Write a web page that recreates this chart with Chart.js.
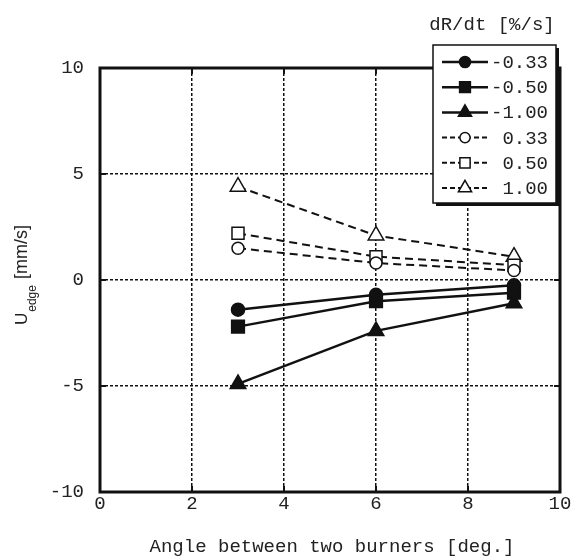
<!DOCTYPE html>
<html>
<head>
<meta charset="utf-8">
<script src="https://cdn.jsdelivr.net/npm/chart.js@4"></script>
<style>
  html, body { margin: 0; padding: 0; background: #fff; }
  #wrap { width: 574px; height: 557px; }
</style>
</head>
<body>
<div id="wrap"><canvas id="chart" width="574" height="557"></canvas></div>
<script>
// angle between the burners [deg.]
const angles = [3, 6, 9];

// dR/dt [%/s]
const rateLabels = ['-0.33', '-0.50', '-1.00', '0.33', '0.50', '1.00'];

// U_edge [mm/s] for each rate
const uNeg033 = [-1.4, -0.7, -0.25];
const uNeg050 = [-2.2, -1.0, -0.6];
const uNeg100 = [-4.9, -2.4, -1.1];
const uPos033 = [1.5, 0.8, 0.45];
const uPos050 = [2.2, 1.1, 0.7];
const uPos100 = [4.4, 2.1, 1.1];

const xTicks = [0, 2, 4, 6, 8, 10];
const yTicks = [-10, -5, 0, 5, 10];

const INK = '#111';
const MONO = '"Liberation Mono", "DejaVu Sans Mono", monospace';
const SANS = '"Liberation Sans", Arial, sans-serif';

function series(label, values, style, filled, radius) {
  return {
    label: label,
    data: angles.map((a, i) => ({ x: a, y: values[i] })),
    borderColor: INK,
    borderWidth: filled ? 2.5 : 2,
    borderDash: filled ? [] : [8, 5],
    pointStyle: style,
    pointRadius: radius,
    pointBorderWidth: 1.5,
    pointBorderColor: INK,
    pointBackgroundColor: filled ? INK : '#fff',
    tension: 0
  };
}

const datasets = [
  series(rateLabels[0], uNeg033, 'circle', true, 6.5),
  series(rateLabels[1], uNeg050, 'rect', true, 9),
  series(rateLabels[2], uNeg100, 'triangle', true, 9),
  series(rateLabels[3], uPos033, 'circle', false, 6),
  series(rateLabels[4], uPos050, 'rect', false, 8.5),
  series(rateLabels[5], uPos100, 'triangle', false, 9)
];

// frame, inward ticks, axis titles and the boxed legend
const decorations = {
  id: 'decorations',
  afterDraw(chart) {
    const ctx = chart.ctx;
    const a = chart.chartArea;
    const xs = chart.scales.x, ys = chart.scales.y;
    ctx.save();

    // frame
    ctx.strokeStyle = INK;
    ctx.lineWidth = 3;
    ctx.setLineDash([]);
    ctx.strokeRect(a.left, a.top, a.right - a.left, a.bottom - a.top);

    // inward ticks on all four sides
    ctx.lineWidth = 2;
    ctx.beginPath();
    xTicks.forEach(v => {
      const px = xs.getPixelForValue(v);
      ctx.moveTo(px, a.bottom); ctx.lineTo(px, a.bottom - 6);
      ctx.moveTo(px, a.top); ctx.lineTo(px, a.top + 6);
    });
    yTicks.forEach(v => {
      const py = ys.getPixelForValue(v);
      ctx.moveTo(a.left, py); ctx.lineTo(a.left + 6, py);
      ctx.moveTo(a.right, py); ctx.lineTo(a.right - 6, py);
    });
    ctx.stroke();

    // x title
    ctx.fillStyle = '#222';
    ctx.font = '19px ' + MONO;
    ctx.textAlign = 'center';
    ctx.textBaseline = 'alphabetic';
    ctx.fillText('Angle between two burners [deg.]', (a.left + a.right) / 2 + 2, 552);

    // y title: U with subscript "edge", then unit
    ctx.save();
    ctx.translate(27, 325);
    ctx.rotate(-Math.PI / 2);
    ctx.textAlign = 'left';
    ctx.font = '17px ' + SANS;
    ctx.fillText('U', 0, 0);
    let off = ctx.measureText('U').width + 1;
    ctx.font = '12px ' + SANS;
    ctx.fillText('edge', off, 9);
    off += ctx.measureText('edge').width + 6;
    ctx.font = '18px ' + SANS;
    ctx.fillText('[mm/s]', off, 0);
    ctx.restore();

    // legend title
    ctx.font = '19px ' + MONO;
    ctx.textAlign = 'center';
    ctx.fillText('dR/dt [%/s]', 492, 30);

    // legend box with shadow
    const bx = 433, by = 45, bw = 123, bh = 158;
    ctx.fillStyle = INK;
    ctx.fillRect(bx + 3, by + 3, bw, bh);
    ctx.fillStyle = '#fff';
    ctx.fillRect(bx, by, bw, bh);
    ctx.strokeStyle = INK;
    ctx.lineWidth = 1.5;
    ctx.strokeRect(bx, by, bw, bh);

    chart.data.datasets.forEach((ds, i) => {
      const ry = 62 + i * 25.2;
      ctx.strokeStyle = INK;
      ctx.lineWidth = ds.borderWidth;
      ctx.setLineDash(ds.borderDash.length ? [5, 3] : []);
      ctx.beginPath();
      ctx.moveTo(442, ry);
      ctx.lineTo(488, ry);
      ctx.stroke();
      ctx.setLineDash([]);
      ctx.fillStyle = ds.pointBackgroundColor;
      ctx.lineWidth = ds.pointBorderWidth;
      Chart.helpers.drawPoint(ctx, {
        pointStyle: ds.pointStyle,
        radius: ds.pointRadius * 0.85,
        rotation: 0,
        borderWidth: ds.pointBorderWidth
      }, 465, ry);
      ctx.fillStyle = '#222';
      ctx.font = '19px ' + MONO;
      ctx.textAlign = 'right';
      ctx.textBaseline = 'middle';
      ctx.fillText(ds.label, 548, ry + 1);
    });

    ctx.restore();
  }
};

new Chart(document.getElementById('chart').getContext('2d'), {
  type: 'line',
  data: { datasets: datasets },
  options: {
    responsive: false,
    animation: false,
    events: [],
    layout: { padding: { left: 0, top: 68, right: 14, bottom: 0 } },
    plugins: {
      legend: { display: false },
      tooltip: { enabled: false }
    },
    scales: {
      x: {
        type: 'linear',
        min: 0,
        max: 10,
        afterFit: s => { s.height = 65; },
        afterBuildTicks: s => { s.ticks = xTicks.map(v => ({ value: v })); },
        ticks: { color: '#222', font: { family: MONO, size: 19 }, padding: 1 },
        grid: { color: INK, lineWidth: 1.5, drawTicks: false },
        border: { display: false, dash: [3, 2] }
      },
      y: {
        type: 'linear',
        min: -10,
        max: 10,
        afterFit: s => { s.width = 100; },
        afterBuildTicks: s => { s.ticks = yTicks.map(v => ({ value: v })); },
        ticks: { color: '#222', font: { family: MONO, size: 19 }, padding: 16 },
        grid: { color: INK, lineWidth: 1.5, drawTicks: false },
        border: { display: false, dash: [3, 2] }
      }
    }
  },
  plugins: [decorations]
});
</script>
</body>
</html>
